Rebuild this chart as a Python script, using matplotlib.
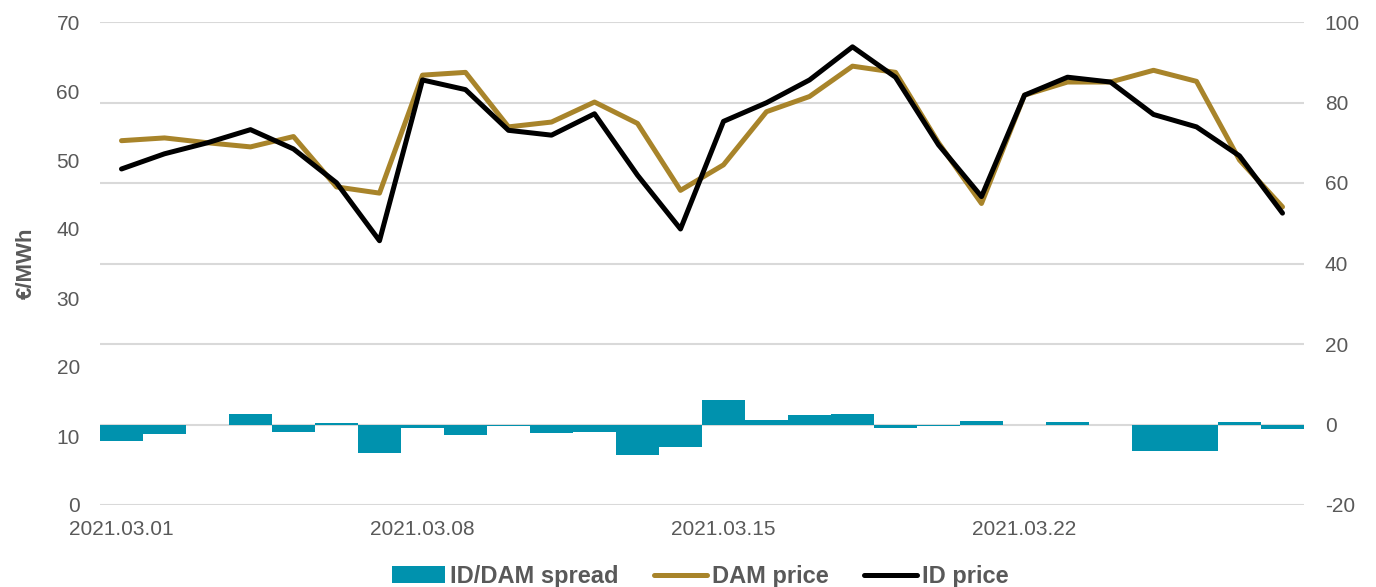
import matplotlib
matplotlib.use("Agg")
import matplotlib.pyplot as plt
import numpy as np

# ---- data ----
dates = [f"2021.03.{d:02d}" for d in range(1, 29)]
dam_price = [52.8, 53.2, 52.5, 51.9, 53.4, 46.1, 45.2, 62.3, 62.7, 54.8,
             55.5, 58.4, 55.3, 45.6, 49.3, 57.0, 59.2, 63.6, 62.7, 52.5,
             43.7, 59.4, 61.3, 61.3, 63.0, 61.4, 50.0, 43.2]
id_price = [48.7, 50.9, 52.5, 54.4, 51.6, 46.7, 38.3, 61.6, 60.2, 54.3,
            53.6, 56.7, 47.8, 40.0, 55.6, 58.3, 61.6, 66.4, 62.0, 52.2,
            44.7, 59.4, 62.0, 61.3, 56.6, 54.8, 50.6, 42.3]
spread = [-4.0, -2.4, 0.0, 2.5, -1.8, 0.4, -7.0, -0.8, -2.5, -0.3,
          -2.0, -1.8, -7.5, -5.7, 6.2, 1.1, 2.3, 2.5, -0.8, -0.4,
          0.9, 0.0, 0.6, 0.0, -6.5, -6.6, 0.6, -1.1]
xtick_labels = ["2021.03.01", "2021.03.08", "2021.03.15", "2021.03.22"]
left_ticks = [0, 10, 20, 30, 40, 50, 60, 70]
right_ticks = [-20, 0, 20, 40, 60, 80, 100]

plt.rcParams['font.family'] = ['Liberation Sans', 'DejaVu Sans']
plt.rcParams['axes.unicode_minus'] = False

BAR_C = "#0092AE"
DAM_C = "#A8842A"
TXT_C = "#595959"

fig = plt.figure(figsize=(13.76, 5.87), dpi=100)
ax = fig.add_axes([100/1376, 82/587, 1204/1376, 483/587])
ax2 = ax.twinx()

x = np.arange(len(dates))

# bars on right axis
bars = ax2.bar(x, spread, width=1.0, color=BAR_C, linewidth=0, zorder=3)
ax2.set_ylim(-20, 100)
ax2.set_yticks(right_ticks)
ax2.grid(axis='y', color="#D9D9D9", linewidth=1.5, zorder=0)
ax2.set_axisbelow(True)

# lines on left axis
l_dam, = ax.plot(x, dam_price, color=DAM_C, lw=3.6, solid_capstyle='round',
                 solid_joinstyle='round', zorder=4)
l_id, = ax.plot(x, id_price, color="black", lw=3.6, solid_capstyle='round',
                solid_joinstyle='round', zorder=5)
ax.set_ylim(0, 70)
ax.set_yticks(left_ticks)
ax.set_xlim(-0.5, len(dates) - 0.5)
ax.set_xticks([dates.index(d) for d in xtick_labels])
ax.set_xticklabels(xtick_labels)

ax.set_zorder(ax2.get_zorder() + 1)
ax.patch.set_visible(False)

for a in (ax, ax2):
    for s in a.spines.values():
        s.set_visible(False)
    a.tick_params(length=0, labelsize=15, colors=TXT_C)
ax.tick_params(axis='y', pad=14.5)
ax2.tick_params(axis='y', pad=15)
ax.tick_params(axis='x', pad=11)

ax.set_ylabel("€/MWh", fontsize=16, fontweight='bold', color=TXT_C, labelpad=14)

leg = fig.legend([bars, l_dam, l_id], ["ID/DAM spread", "DAM price", "ID price"],
                 loc='center', bbox_to_anchor=(0.509, 0.018), ncol=3, frameon=False,
                 prop={'weight': 'bold', 'size': 17}, handlelength=2.25,
                 handletextpad=0.2, columnspacing=1.5)
for t in leg.get_texts():
    t.set_color(TXT_C)

fig.savefig("out.png", dpi=100)
